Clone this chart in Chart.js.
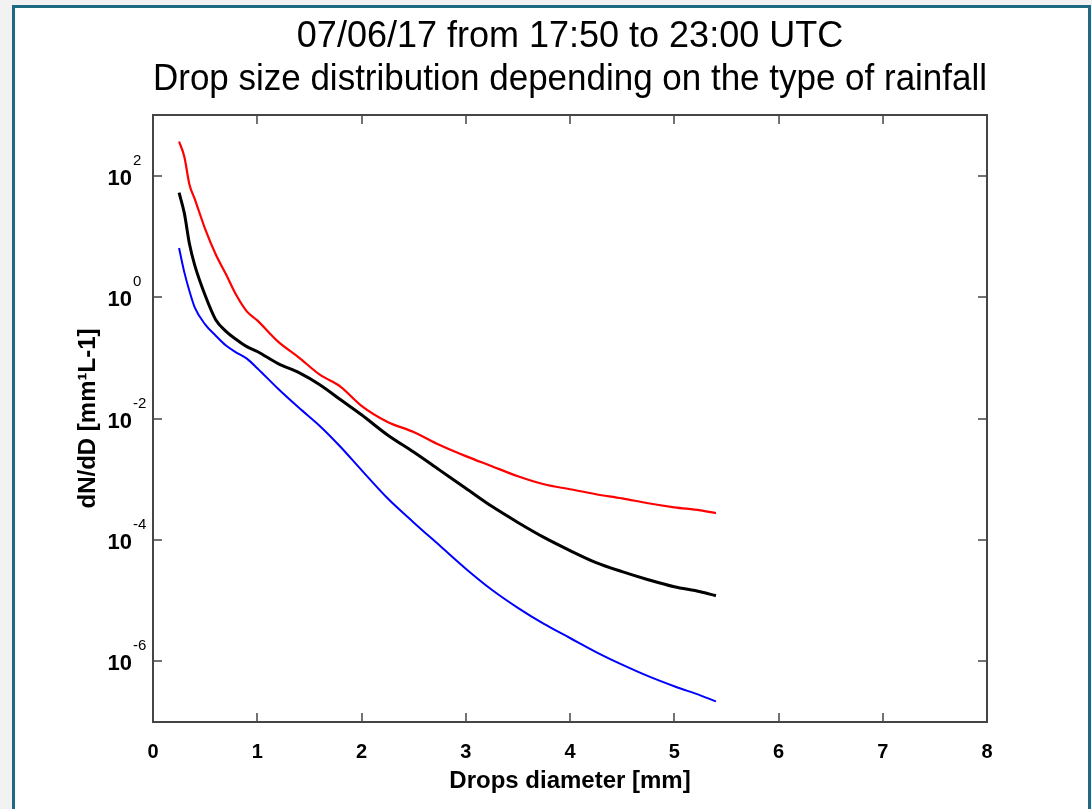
<!DOCTYPE html>
<html>
<head>
<meta charset="utf-8">
<script src="https://cdn.jsdelivr.net/npm/chart.js@4.4.0/dist/chart.umd.min.js"></script>
<style>
  html, body { margin: 0; padding: 0; }
  body { width: 1092px; height: 809px; overflow: hidden; background: #f2f2f2; position: relative; }
  #frame { position: absolute; left: 12px; top: 5px; width: 1079px; height: 900px; box-sizing: border-box;
           border: 3px solid #1d6a82; border-bottom: none; background: #fff; }
  #wrap { position: absolute; left: 0; top: 0; width: 1092px; height: 809px; }
</style>
</head>
<body>
<div id="frame"></div>
<div id="wrap"><canvas id="dsdChart" width="1092" height="809"></canvas></div>
<script>
// drop diameter [mm]
const diameters = [0.25, 0.3, 0.35, 0.4, 0.5, 0.6, 0.7, 0.8, 0.9, 1.0, 1.2, 1.4, 1.6, 1.8, 2.0,
  2.25, 2.5, 2.75, 3.0, 3.25, 3.5, 3.75, 4.0, 4.25, 4.5, 4.75, 5.0, 5.25, 5.4];

// dN/dD, one array per rainfall type
const redValues = [366, 207, 71.0, 41.6, 13.3, 5.12, 2.38, 1.07, 0.582, 0.413, 0.185, 0.101, 0.0527,
  0.0333, 0.0162, 8.79e-3, 6.0e-3, 3.66e-3, 2.40e-3, 1.64e-3, 1.12e-3, 8.26e-4, 6.82e-4, 5.65e-4,
  4.84e-4, 4.01e-4, 3.44e-4, 3.07e-4, 2.77e-4];
const blackValues = [52.4, 24.4, 7.48, 3.36, 1.07, 0.429, 0.272, 0.200, 0.153, 0.127, 0.0802, 0.0569,
  0.0360, 0.0203, 0.0115, 5.35e-3, 2.80e-3, 1.41e-3, 7.10e-4, 3.57e-4, 1.94e-4, 1.10e-4, 6.68e-5,
  4.23e-5, 3.00e-5, 2.21e-5, 1.69e-5, 1.40e-5, 1.20e-5];
const blueValues = [6.43, 2.58, 1.25, 0.678, 0.355, 0.233, 0.159, 0.122, 0.0970, 0.0675, 0.0309,
  0.0150, 7.53e-3, 3.39e-3, 1.41e-3, 4.84e-4, 1.94e-4, 8.07e-5, 3.36e-5, 1.51e-5, 7.60e-6, 4.13e-6,
  2.42e-6, 1.42e-6, 8.81e-7, 5.69e-7, 3.88e-7, 2.75e-7, 2.19e-7];

const xTicks = [0, 1, 2, 3, 4, 5, 6, 7, 8];
const yTicks = [1e-6, 1e-4, 1e-2, 1, 1e2];
const yExponents = ['-6', '-4', '-2', '0', '2'];

const FONT = '"Liberation Sans", Arial, Helvetica, sans-serif';

const toPoints = vals => vals.map((v, i) => ({ x: diameters[i], y: v }));

// matlab-like box with inward ticks and 10^n labels
const axesBox = {
    id: 'axesBox',
    afterDatasetsDraw(chart) {
        const { ctx, chartArea: a, scales: { x, y } } = chart;
        ctx.save();
        ctx.strokeStyle = '#454545';
        ctx.lineWidth = 2;
        ctx.strokeRect(a.left, a.top, a.right - a.left, a.bottom - a.top);

        ctx.beginPath();
        xTicks.forEach(v => {
            const px = Math.round(x.getPixelForValue(v));
            ctx.moveTo(px, a.bottom); ctx.lineTo(px, a.bottom - 9);
            ctx.moveTo(px, a.top); ctx.lineTo(px, a.top + 9);
        });
        yTicks.forEach(v => {
            const py = Math.round(y.getPixelForValue(v));
            ctx.moveTo(a.left, py); ctx.lineTo(a.left + 9, py);
            ctx.moveTo(a.right, py); ctx.lineTo(a.right - 9, py);
        });
        ctx.lineWidth = 1.5;
        ctx.stroke();

        ctx.fillStyle = '#000';
        yTicks.forEach((v, i) => {
            const py = y.getPixelForValue(v);
            ctx.font = 'bold 22px ' + FONT;
            ctx.textAlign = 'right';
            ctx.textBaseline = 'middle';
            ctx.fillText('10', a.left - 21, py + 3);
            ctx.font = '15px ' + FONT;
            ctx.textAlign = 'left';
            ctx.fillText(yExponents[i], a.left - 20, py - 15);
        });
        ctx.restore();
    }
};

const ctx = document.getElementById('dsdChart').getContext('2d');

new Chart(ctx, {
    type: 'line',
    data: {
        datasets: [
            { label: 'red', data: toPoints(redValues), borderColor: '#ff0000', borderWidth: 2.2 },
            { label: 'black', data: toPoints(blackValues), borderColor: '#000000', borderWidth: 3 },
            { label: 'blue', data: toPoints(blueValues), borderColor: '#0000ff', borderWidth: 2 }
        ]
    },
    options: {
        responsive: false,
        animation: false,
        devicePixelRatio: 1,
        parsing: false,
        elements: {
            point: { radius: 0 },
            line: { cubicInterpolationMode: 'monotone', fill: false }
        },
        layout: { padding: { left: 0, right: 105, top: 0, bottom: 0 } },
        scales: {
            x: {
                type: 'linear',
                min: 0,
                max: 8,
                afterBuildTicks: scale => { scale.ticks = xTicks.map(v => ({ value: v })); },
                afterFit: scale => { scale.height = 87; },
                grid: { display: false, drawTicks: false },
                border: { display: false },
                ticks: { color: '#000', font: { family: FONT, size: 20, weight: 'bold' }, padding: 18, maxRotation: 0 },
                title: {
                    display: true,
                    text: 'Drops diameter [mm]',
                    color: '#000',
                    font: { family: FONT, size: 24, weight: 'bold' },
                    padding: { top: 0, bottom: 13 }
                }
            },
            y: {
                type: 'logarithmic',
                min: 1e-7,
                max: 1e3,
                afterBuildTicks: scale => { scale.ticks = yTicks.map(v => ({ value: v })); },
                afterFit: scale => { scale.width = 153; },
                grid: { display: false, drawTicks: false },
                border: { display: false },
                ticks: { display: false },
                title: {
                    display: true,
                    text: 'dN/dD [mm\u00B9L-1]',
                    color: '#000',
                    font: { family: FONT, size: 24, weight: 'bold' },
                    padding: { top: 74, bottom: 0 }
                }
            }
        },
        plugins: {
            legend: { display: false },
            tooltip: { enabled: false },
            title: {
                display: true,
                fullSize: false,
                text: ['07/06/17 from 17:50 to 23:00 UTC', 'Drop size distribution depending on the type of rainfall'],
                color: '#000',
                font: { family: FONT, size: 36, weight: 'normal', lineHeight: 1.2 },
                padding: { top: 15, bottom: 13.6 }
            }
        }
    },
    plugins: [axesBox]
});
</script>
</body>
</html>
